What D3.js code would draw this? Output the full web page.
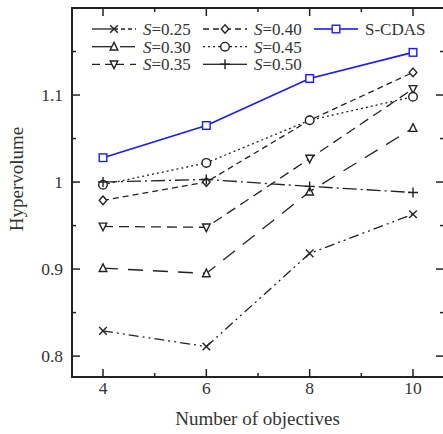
<!DOCTYPE html>
<html>
<head>
<meta charset="utf-8">
<script src="https://cdn.jsdelivr.net/npm/d3@7"></script>
<style>
  body { margin: 0; background: #fff; }
  svg text { font-family: "Liberation Serif", "DejaVu Serif", serif; fill: #333; }
</style>
</head>
<body>
<div id="chart"></div>
<script>
// data
const objectives = [4, 6, 8, 10];
const s025 = [0.829, 0.811, 0.918, 0.963];
const s030 = [0.901, 0.895, 0.989, 1.062];
const s035 = [0.949, 0.948, 1.027, 1.107];
const s040 = [0.979, 1.000, 1.071, 1.126];
const s045 = [0.997, 1.022, 1.071, 1.098];
const s050 = [1.000, 1.003, 0.995, 0.988];
const scdas = [1.028, 1.065, 1.119, 1.149];
const seriesNames = ["0.25", "0.30", "0.35", "0.40", "0.45", "0.50", "S-CDAS"];
const xTicks = [4, 6, 8, 10];
const yTicks = [0.8, 0.9, 1, 1.1];

const series = [
    { name: seriesNames[0], values: s025, marker: "x", dash: "10,4,2,4,2,4", color: "#222" },
    { name: seriesNames[1], values: s030, marker: "tri", dash: "15,10", color: "#222" },
    { name: seriesNames[2], values: s035, marker: "tridown", dash: "10,6", color: "#222" },
    { name: seriesNames[3], values: s040, marker: "diamond", dash: "6,4", color: "#222" },
    { name: seriesNames[4], values: s045, marker: "circle", dash: "2,3", color: "#222" },
    { name: seriesNames[5], values: s050, marker: "plus", dash: "14,4,2,4", color: "#222" },
    { name: seriesNames[6], values: scdas, marker: "square", dash: null, color: "#1a1aff" }
];

const W = 443, H = 434;
const margin = { top: 8, left: 72, bottom: 57, right: -1 };

const svg = d3.select("#chart").append("svg")
    .attr("width", W).attr("height", H);

const x = d3.scaleLinear().domain([3.4, 10.6]).range([margin.left, W - margin.right]);
const y = d3.scaleLinear().domain([0.776, 1.2]).range([H - margin.bottom, margin.top]);

const x0 = x.range()[0], x1 = x.range()[1], y0 = y.range()[0], y1 = y.range()[1];

// ticks (inward, on all four sides)
const tk = svg.append("g").attr("stroke", "#222").attr("stroke-width", 1.5);
d3.range(4, 10.01, 1).forEach(v => {
    let len = (v % 2 === 0) ? 8 : 4;
    tk.append("line").attr("x1", x(v)).attr("x2", x(v)).attr("y1", y0).attr("y2", y0 - len);
    tk.append("line").attr("x1", x(v)).attr("x2", x(v)).attr("y1", y1).attr("y2", y1 + len);
});
d3.range(0.8, 1.1501, 0.05).forEach(v => {
    let major = Math.abs(Math.round(v * 10) - v * 10) < 1e-6;
    let len = major ? 8 : 4;
    tk.append("line").attr("x1", x0).attr("x2", x0 + len).attr("y1", y(v)).attr("y2", y(v));
    tk.append("line").attr("x1", x1).attr("x2", x1 - len).attr("y1", y(v)).attr("y2", y(v));
});

// frame
svg.append("rect")
    .attr("x", x0).attr("y", y1)
    .attr("width", x1 - x0).attr("height", y0 - y1)
    .attr("fill", "none").attr("stroke", "#222").attr("stroke-width", 2);

// tick labels
svg.append("g").selectAll("text").data(xTicks).enter().append("text")
    .attr("x", d => x(d)).attr("y", y0 + 17)
    .attr("text-anchor", "middle").style("font-size", "17.5px")
    .text(d => d);
svg.append("g").selectAll("text").data(yTicks).enter().append("text")
    .attr("x", x0 - 9).attr("y", d => y(d) + 6)
    .attr("text-anchor", "end").style("font-size", "17.5px")
    .text(d => d);

// axis titles
svg.append("text")
    .attr("x", (x0 + 443) / 2).attr("y", 425)
    .attr("text-anchor", "middle").style("font-size", "19px")
    .text("Number of objectives");
svg.append("text")
    .attr("transform", "translate(23," + 179 + ") rotate(-90)")
    .attr("text-anchor", "middle").style("font-size", "19px")
    .text("Hypervolume");

function drawMarker(g, type, cx, cy, color) {
    let s = 3.8;
    let st = { stroke: color, "stroke-width": 1.4, fill: "#fff" };
    let el;
    if (type === "x") {
        el = g.append("path").attr("d", `M${cx - s},${cy - s}L${cx + s},${cy + s}M${cx - s},${cy + s}L${cx + s},${cy - s}`);
    } else if (type === "plus") {
        s = 5;
        el = g.append("path").attr("d", `M${cx - s},${cy}L${cx + s},${cy}M${cx},${cy - s}L${cx},${cy + s}`);
    } else if (type === "tri") {
        el = g.append("path").attr("d", `M${cx},${cy - s - 0.5}L${cx + s},${cy + s - 0.5}L${cx - s},${cy + s - 0.5}Z`);
    } else if (type === "tridown") {
        el = g.append("path").attr("d", `M${cx},${cy + s + 0.5}L${cx + s},${cy - s + 0.5}L${cx - s},${cy - s + 0.5}Z`);
    } else if (type === "diamond") {
        el = g.append("path").attr("d", `M${cx},${cy - s - 0.5}L${cx + s},${cy}L${cx},${cy + s + 0.5}L${cx - s},${cy}Z`);
    } else if (type === "circle") {
        el = g.append("circle").attr("cx", cx).attr("cy", cy).attr("r", s + 0.5);
    } else if (type === "square") {
        el = g.append("rect").attr("x", cx - s).attr("y", cy - s).attr("width", 2 * s).attr("height", 2 * s);
    }
    Object.keys(st).forEach(k => el.attr(k, st[k]));
}

const line = d3.line().x((d, i) => x(objectives[i])).y(d => y(d));

const plot = svg.append("g");
series.forEach(s => {
    plot.append("path")
        .attr("d", line(s.values))
        .attr("fill", "none")
        .attr("stroke", s.color)
        .attr("stroke-width", s.dash ? 1.3 : 1.6)
        .attr("stroke-dasharray", s.dash);
});
series.forEach(s => {
    let g = plot.append("g");
    s.values.forEach((v, i) => drawMarker(g, s.marker, x(objectives[i]), y(v), s.color));
});

// legend, three columns
const legCols = [92, 203, 314];
const legRows = [29, 46.7, 64.3];
series.forEach((s, i) => {
    let col = Math.floor(i / 3), row = i % 3;
    let lx = legCols[col], ly = legRows[row];
    let g = svg.append("g");
    // solid lead-in on the left half, the series dash on the right half
    g.append("line")
        .attr("x1", lx).attr("x2", lx + 22).attr("y1", ly).attr("y2", ly)
        .attr("stroke", s.color).attr("stroke-width", s.dash ? 1.3 : 1.6)
        .attr("stroke-dasharray", s.dash ? (s.marker === "circle" ? "2,3" : (s.marker === "tridown" ? "8,5" : (s.marker === "diamond" ? "6,4" : null))) : null);
    g.append("line")
        .attr("x1", lx + 22).attr("x2", lx + 44).attr("y1", ly).attr("y2", ly)
        .attr("stroke", s.color).attr("stroke-width", s.dash ? 1.3 : 1.6)
        .attr("stroke-dasharray", s.dash ? (s.marker === "plus" ? null : (s.marker === "x" ? "4,3" : s.dash)) : null)
        .attr("stroke-dashoffset", s.marker === "tri" ? -6 : 0);
    drawMarker(g, s.marker, lx + 22, ly, s.color);
    let t = g.append("text").attr("x", lx + 51).attr("y", ly + 6).style("font-size", "17px");
    if (s.name === "S-CDAS") {
        t.text("S-CDAS");
    } else {
        t.append("tspan").style("font-style", "italic").text("S");
        t.append("tspan").text("=" + s.name);
    }
});
</script>
</body>
</html>
